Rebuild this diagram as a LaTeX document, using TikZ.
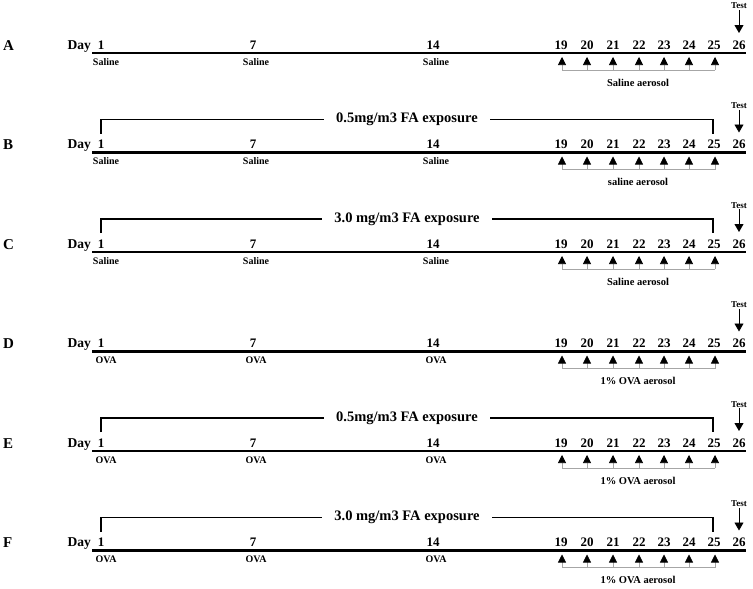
\documentclass[tikz,border=0pt]{standalone}
\usepackage{fontspec}
\setmainfont{Liberation Serif}
\usetikzlibrary{arrows.meta}

% one protocol row: name, y of the axis, injection, aerosol
\newcommand{\protocolrow}[4]{%
  \node[panel] (#1-lab) at (3,#2-3) {#1};
  \node[daylab] (#1-day) at (91,#2-4) {Day};
  \coordinate (#1-start) at (92,#2);
  \coordinate (#1-end) at (746,#2);
  \draw[axis] (#1-start) -- (#1-end);
  \foreach \d/\x in {1/101,7/253,14/433,19/561,20/587,21/613,22/639,23/664,24/689,25/714,26/739}
    \node[daynum] (#1-d\d) at (\x,#2-4) {\d};
  \foreach \d/\x in {1/106,7/256,14/436}
    \node[inject] (#1-i\d) at (\x,#2+12) {#3};
  \foreach \d/\x in {19/562,20/587,21/613,22/639,23/664,24/689,25/715} {
    \coordinate (#1-s\d) at (\x,#2+17);
    \coordinate (#1-t\d) at (\x,#2+4);
    \draw[up] (#1-s\d) -- (#1-t\d);
  }
  \draw[bracket] (#1-s19) -- (#1-s25);
  \node[aerolab] (#1-aero) at (638,#2+33) {#4};
  \node[testlab] (#1-test) at (739,#2-44) {Test};
  \coordinate (#1-tip) at (739,#2-20);
  \draw[down] (#1-test) -- (#1-tip);
}

% formaldehyde exposure bracket: name, y of the axis, text
\newcommand{\exposure}[3]{%
  \coordinate (#1-fa1) at (101,#2-19);
  \coordinate (#1-fa2) at (713,#2-19);
  \draw[faline] (#1-fa1) -- ++(0,-14) -| (#1-fa2);
  \node[falab] (#1-fa) at (407,#2-33) {#3};
}

\begin{document}
\begin{tikzpicture}[x=1pt, y=-1pt,
    panel/.style = {anchor=base west, inner sep=0pt, font=\fontsize{15}{15}\selectfont\bfseries},
    daylab/.style = {anchor=base east, inner sep=0pt, font=\fontsize{13.5}{13.5}\selectfont\bfseries},
    daynum/.style = {anchor=base, inner sep=0pt, font=\fontsize{13}{13}\selectfont\bfseries},
    inject/.style = {anchor=base, inner sep=0pt, font=\fontsize{10}{10}\selectfont\bfseries},
    aerolab/.style = {anchor=base, inner sep=0pt, font=\fontsize{10.5}{10.5}\selectfont\bfseries},
    testlab/.style = {anchor=base, inner sep=0pt, font=\fontsize{9}{9}\selectfont\bfseries},
    falab/.style = {fill=white, inner xsep=12pt, inner ysep=2pt, font=\fontsize{14.5}{14.5}\selectfont\bfseries},
    axis/.style = {line width=2.4pt},
    faline/.style = {line width=1.8pt},
    up/.style = {gray!70, line width=0.7pt, -{Triangle[black, length=8pt, width=8pt]}},
    bracket/.style = {gray!70, line width=0.8pt},
    down/.style = {line width=0.8pt, -{Triangle[length=8pt, width=9pt]}, shorten <=1pt}
  ]
  \useasboundingbox (0,0) rectangle (753,589);

  \protocolrow{A}{53}{Saline}{Saline aerosol}
  \protocolrow{B}{152.5}{Saline}{saline aerosol}
  \exposure{B}{152.5}{0.5mg/m3 FA exposure}
  \protocolrow{C}{252}{Saline}{Saline aerosol}
  \exposure{C}{252}{3.0 mg/m3 FA exposure}
  \protocolrow{D}{351.5}{OVA}{1\% OVA aerosol}
  \protocolrow{E}{451}{OVA}{1\% OVA aerosol}
  \exposure{E}{451}{0.5mg/m3 FA exposure}
  \protocolrow{F}{550.5}{OVA}{1\% OVA aerosol}
  \exposure{F}{550.5}{3.0 mg/m3 FA exposure}
\end{tikzpicture}
\end{document}
